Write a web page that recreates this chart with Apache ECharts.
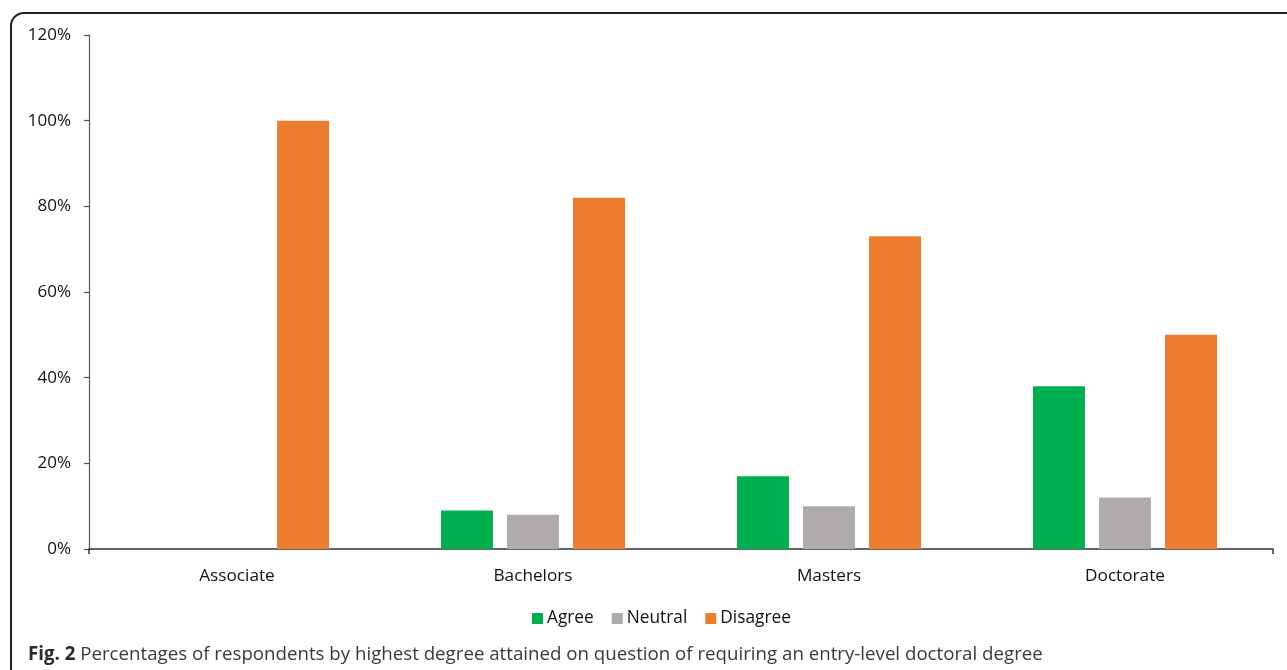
<!DOCTYPE html>
<html>
<head>
<meta charset="utf-8">
<script src="https://cdn.jsdelivr.net/npm/echarts@6/dist/echarts.min.js"></script>
<style>
  html, body { margin: 0; padding: 0; background: #fff; overflow: hidden; }
  #frame {
    position: absolute; left: 10px; top: 12px; width: 1300px; height: 680px;
    border: 2px solid #222; border-radius: 14px; box-sizing: border-box;
  }
  #chart { position: absolute; left: 0; top: 0; width: 1287px; height: 670px; }
</style>
</head>
<body>
<div id="frame"></div>
<div id="chart"></div>
<script>
// Highest degree attained
const categories = ['Associate', 'Bachelors', 'Masters', 'Doctorate'];
// Share of respondents (%) per answer
const agree    = [0, 9, 17, 38];
const neutral  = [0, 8, 10, 12];
const disagree = [100, 82, 73, 50];
const yTicks = [0, 20, 40, 60, 80, 100, 120];

const font = '"Open Sans", sans-serif';
const chart = echarts.init(document.getElementById('chart'));

chart.setOption({
  animation: false,
  textStyle: { fontFamily: font },
  title: {
    left: 23, top: 640,
    text: '{b|Fig. 2} Percentages of respondents by highest degree attained on question of requiring an entry-level doctoral degree',
    textStyle: {
      fontFamily: font, fontSize: 18.7, color: '#3a3a3a', fontWeight: 'normal',
      rich: { b: { fontFamily: font, fontSize: 18.7, fontWeight: 'bold', color: '#2a2a2a' } }
    }
  },
  legend: {
    top: 605, left: 527,
    itemWidth: 11, itemHeight: 11, itemGap: 18,
    icon: 'rect',
    textStyle: { fontFamily: font, fontSize: 17.3, color: '#111', padding: [0, 0, 0, -1] },
    data: ['Agree', 'Neutral', 'Disagree']
  },
  grid: { left: 89, right: 14, top: 35, bottom: 121, containLabel: false },
  xAxis: [{
    type: 'category',
    data: categories,
    axisLine: { lineStyle: { color: '#333', width: 1.5 } },
    axisTick: { alignWithLabel: true, length: 5, lineStyle: { color: '#333', width: 1.5 } },
    axisLabel: { fontFamily: font, fontSize: 17.2, color: '#111', margin: 19 }
  }, {
    // end ticks at the outer edges of the category axis
    type: 'value', position: 'bottom', min: 0, max: 4, interval: 4,
    axisLine: { show: false },
    axisTick: { show: true, length: 5, lineStyle: { color: '#333', width: 1.5 } },
    axisLabel: { show: false },
    splitLine: { show: false }
  }],
  yAxis: {
    type: 'value', min: 0, max: 120, interval: 20,
    axisLine: { show: true, lineStyle: { color: '#555', width: 1.2 } },
    axisTick: { show: true, length: 5, lineStyle: { color: '#555', width: 1.2 } },
    splitLine: { show: false },
    axisLabel: {
      fontFamily: font, fontSize: 17, color: '#111', margin: 18,
      formatter: v => (yTicks.includes(v) ? v + '%' : '')
    }
  },
  series: [
    { name: 'Agree', type: 'bar', data: agree, barWidth: 52, barGap: '27%',
      itemStyle: { color: '#00B050' } },
    { name: 'Neutral', type: 'bar', data: neutral, barWidth: 52, barGap: '27%',
      itemStyle: { color: '#AFABAB' } },
    { name: 'Disagree', type: 'bar', data: disagree, barWidth: 52, barGap: '27%',
      itemStyle: { color: '#ED7D31' } }
  ]
});
</script>
</body>
</html>
